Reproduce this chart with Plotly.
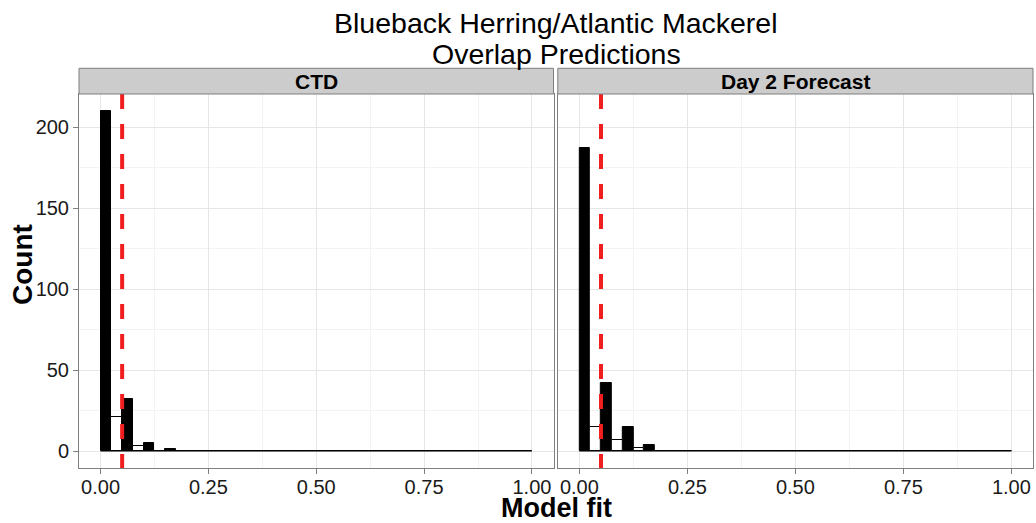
import numpy as np
import plotly.graph_objects as go

# Histogram bins: 20 bins of width 0.05 on [0, 1]
bin_edges = np.round(np.arange(0, 1.0001, 0.05), 2)

panels = ["CTD", "Day 2 Forecast"]

# Counts per bin (first bins only, remaining bins are zero)
ctd_all = [210, 32, 5, 1]
ctd_overlap = [21, 3, 0, 0]
day2_all = [187, 42, 15, 4]
day2_overlap = [15, 7, 2, 0]

threshold = 0.05

x_ticks = [0.0, 0.25, 0.5, 0.75, 1.0]
x_tick_labels = ["0.00", "0.25", "0.50", "0.75", "1.00"]
y_ticks = [0, 50, 100, 150, 200]

title_lines = ["Blueback Herring/Atlantic Mackerel", "Overlap Predictions"]


def pad(counts):
    out = np.zeros(len(bin_edges) - 1)
    out[: len(counts)] = counts
    return out


series = {
    "CTD": (pad(ctd_all), pad(ctd_overlap)),
    "Day 2 Forecast": (pad(day2_all), pad(day2_overlap)),
}

binw = bin_edges[1] - bin_edges[0]
half = binw / 2
left_centers = bin_edges[:-1] + half / 2
right_centers = bin_edges[:-1] + 1.5 * half

fig = go.Figure()

W, H = 1036, 523
ml, mr, mt, mb = 79, 3, 94, 55
pw = W - ml - mr
ph = H - mt - mb
domains = [[0, 474.5 / pw], [478.8 / pw, 1.0]]

border = "#7F7F7F"
grid_major = "#E6E6E6"
grid_minor = "#F3F3F3"
font_family = "Liberation Sans, Arial, sans-serif"


def py(px):
    """Convert a pixel row (from the top of the figure) to paper y."""
    return 1 - (px - mt) / ph


for i, name in enumerate(panels):
    xa = "x" if i == 0 else "x2"
    ya = "y" if i == 0 else "y2"
    black_counts, white_counts = series[name]
    # baseline from outlines of empty bins
    fig.add_trace(go.Scatter(
        x=[bin_edges[0], bin_edges[-1]], y=[0, 0], mode="lines",
        line=dict(color="black", width=1), xaxis=xa, yaxis=ya,
        showlegend=False, hoverinfo="skip"))
    fig.add_trace(go.Bar(
        x=left_centers, y=black_counts, width=half,
        marker=dict(color="black", line=dict(color="black", width=1)),
        xaxis=xa, yaxis=ya, showlegend=False))
    fig.add_trace(go.Bar(
        x=right_centers, y=white_counts, width=half,
        marker=dict(color="white", line=dict(color="black", width=1)),
        xaxis=xa, yaxis=ya, showlegend=False))
    # threshold line
    fig.add_shape(type="line", xref=xa, yref=f"{ya} domain",
                  x0=threshold, x1=threshold, y0=1, y1=0,
                  line=dict(color="#F01E1E", width=4, dash="15px,15px"),
                  layer="above")
    # facet strip
    strip_top = py(68.3)
    fig.add_shape(type="rect", xref="paper", yref="paper",
                  x0=domains[i][0], x1=domains[i][1], y0=1, y1=strip_top,
                  fillcolor="#CCCCCC", line=dict(color=border, width=1))
    fig.add_annotation(text=f"<b>{name}</b>", xref="paper", yref="paper",
                       x=(domains[i][0] + domains[i][1]) / 2,
                       y=(1 + strip_top) / 2, showarrow=False,
                       xanchor="center", yanchor="middle",
                       font=dict(size=21, color="black", family=font_family))

axis_common = dict(
    showgrid=True, gridcolor=grid_major, gridwidth=1,
    zeroline=False, showline=True, linecolor=border, linewidth=1,
    mirror=True, ticks="outside", ticklen=5, tickcolor=border,
    tickfont=dict(size=20, color="#1A1A1A", family=font_family),
)

x_minor = dict(dtick=0.125, tick0=0, showgrid=True,
               gridcolor=grid_minor, ticks="")
y_minor = dict(dtick=25, tick0=0, showgrid=True,
               gridcolor=grid_minor, ticks="")

fig.update_layout(
    width=W, height=H,
    margin=dict(l=ml, r=mr, t=mt, b=mb),
    plot_bgcolor="white", paper_bgcolor="white",
    barmode="overlay", bargap=0,
    xaxis=dict(domain=domains[0], range=[-0.05, 1.05], tickvals=x_ticks,
               ticktext=x_tick_labels, minor=x_minor, anchor="y",
               ticklabelstandoff=-4, **axis_common),
    xaxis2=dict(domain=domains[1], range=[-0.05, 1.05], tickvals=x_ticks,
                ticktext=x_tick_labels, minor=x_minor, anchor="y2",
                ticklabelstandoff=-4, **axis_common),
    yaxis=dict(range=[-10.5, 220.5], tickvals=y_ticks,
               minor=y_minor, anchor="x", **axis_common),
    yaxis2=dict(range=[-10.5, 220.5], tickvals=y_ticks,
                minor=y_minor, anchor="x2", showticklabels=False,
                **{k: v for k, v in axis_common.items() if k != "ticks"},
                ticks=""),
    font=dict(family=font_family, color="black"),
)

# Two-line title, each line placed separately for tighter spacing
for line, center_px in zip(title_lines, [23.0, 54.0]):
    fig.add_annotation(text=line, xref="paper", yref="paper", x=0.5,
                       y=py(center_px), xanchor="center", yanchor="middle",
                       showarrow=False,
                       font=dict(size=28.5, color="black", family=font_family))

# Axis titles
fig.add_annotation(text="<b>Model fit</b>", xref="paper", yref="paper",
                   x=0.5, y=py(507.5), xanchor="center",
                   yanchor="middle", showarrow=False,
                   font=dict(size=27, color="black", family=font_family))
fig.add_annotation(text="<b>Count</b>", xref="paper", yref="paper",
                   x=(22 - ml) / pw, y=py(265),
                   xanchor="center", yanchor="middle", textangle=-90,
                   showarrow=False,
                   font=dict(size=28, color="black", family=font_family))

fig.write_html("out.html")
